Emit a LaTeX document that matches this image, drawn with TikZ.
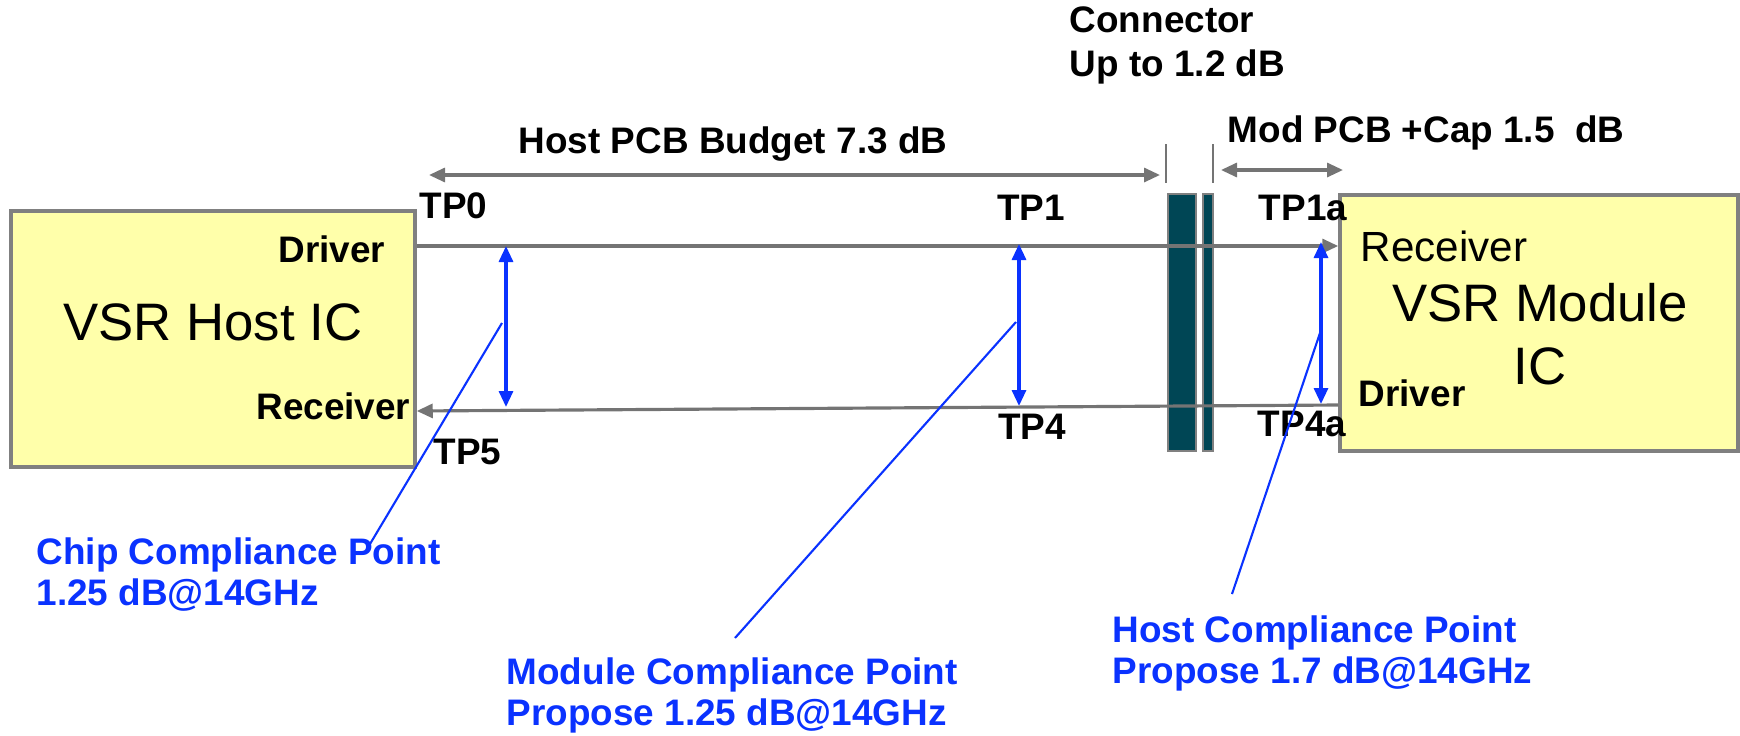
\documentclass[tikz,border=0pt]{standalone}
\usepackage{fontspec}
\setmainfont{Liberation Sans}
\usetikzlibrary{arrows.meta,positioning,calc}
\definecolor{icyellow}{HTML}{FFFFAA}
\definecolor{edgegray}{HTML}{808080}
\definecolor{sigray}{HTML}{747474}
\definecolor{conteal}{HTML}{004655}
\definecolor{tpblue}{HTML}{0A32FF}

\begin{document}
\begin{tikzpicture}[
  lbl/.style={font=\bfseries\fontsize{10.5}{12}\selectfont, inner sep=0pt},
  plain/.style={font=\fontsize{12}{14}\selectfont, inner sep=0pt},
  big/.style={font=\fontsize{15}{18}\selectfont, inner sep=0pt, align=center},
  icbox/.style={draw=edgegray, fill=icyellow, line width=1pt, minimum width=4cm, minimum height=2.56cm, inner sep=0pt},
  conbar/.style={draw=edgegray, fill=conteal, line width=0.8pt, minimum height=2.57cm, inner sep=0pt},
  sig/.style={sigray, line width=0.9pt, -{Triangle[length=1.6mm,width=1.4mm]}},
  dim/.style={sigray, line width=0.9pt, {Triangle[length=1.6mm,width=1.4mm]}-{Triangle[length=1.6mm,width=1.4mm]}},
  tick/.style={sigray, line width=0.5pt},
  tp/.style={tpblue, line width=0.9pt, {Triangle[length=1.6mm,width=1.4mm]}-{Triangle[length=1.6mm,width=1.4mm]}},
  lead/.style={tpblue, line width=0.6pt},
  note/.style={lbl, text=tpblue, align=left, font=\bfseries\fontsize{10.5}{11.6}\selectfont}
]
\useasboundingbox (0,0) rectangle (17.4,7.35);

% the two ICs and the connector
\node[icbox, minimum width=4.04cm] (host) at (2.13,3.96) {};
\node[icbox, minimum width=3.98cm] (mod)  at (15.39,4.12) {};
\node[conbar, minimum width=0.28cm] (conA) at (11.82,4.125) {};
\node[conbar, minimum width=0.10cm] (conB) at (12.08,4.125) {};

\node[big] (hostname) at (2.13,4.13) {VSR Host IC};
\node[big] (modname)  at (15.40,4.005) {VSR Module\\IC};

% pin labels
\node[lbl, anchor=east]  (hdrv) at (3.86,4.86) {Driver};
\node[lbl, anchor=east]  (hrcv) at (4.11,3.29) {Receiver};
\node[plain, anchor=west] (mrcv) at (13.60,4.89) {Receiver};
\node[lbl, anchor=west]  (mdrv) at (13.58,3.42) {Driver};

% signal lines
\coordinate (txA) at (host.east |- 0,4.89);
\coordinate (txB) at (mod.west |- 0,4.89);
\coordinate (rxA) at (host.east |- 0,3.24);
\coordinate (rxB) at (mod.west |- 0,3.30);
\draw[sig] (txA) -- (txB);
\draw[sig] (rxB) -- (rxA);

% budgets
\coordinate (tk1a) at (11.66,5.91);
\coordinate (tk1b) at (11.66,5.52);
\coordinate (tk2a) at (12.13,5.91);
\coordinate (tk2b) at (12.13,5.52);
\draw[tick] (tk1a) -- (tk1b);
\draw[tick] (tk2a) -- (tk2b);
\coordinate (hpA) at (4.29,5.60);
\coordinate (hpB) at (11.60,5.60);
\coordinate (mpA) at (12.21,5.65);
\coordinate (mpB) at (13.43,5.65);
\draw[dim] (hpA) -- (hpB);
\draw[dim] (mpA) -- (mpB);
\node[lbl] (hostpcb) at (7.33,5.91) {Host PCB Budget 7.3 dB};
\node[lbl, anchor=west] (modpcb) at (12.27,6.02) {Mod PCB +Cap 1.5\ \ dB};
\node[lbl, anchor=west, align=left, font=\bfseries\fontsize{10.5}{12.3}\selectfont] (conn) at (10.69,6.895) {Connector\\Up to 1.2 dB};

% test points
\node[lbl, anchor=west] (tp0) at (4.19,5.29) {TP0};
\node[lbl, anchor=west] (tp5) at (4.33,2.83) {TP5};
\node[lbl] (tp1)  at (10.31,5.27) {TP1};
\node[lbl] (tp4)  at (10.32,3.08) {TP4};
\node[lbl] (tp1a) at (13.03,5.27) {TP1a};
\node[lbl] (tp4a) at (13.02,3.11) {TP4a};

\coordinate (chipT) at (5.06,4.89);
\coordinate (chipB) at (5.06,3.28);
\coordinate (modT)  at (10.19,4.91);
\coordinate (modB)  at (10.19,3.29);
\coordinate (hcpT)  at (13.21,4.93);
\coordinate (hcpB)  at (13.21,3.31);
\draw[tp] (chipT) -- (chipB);
\draw[tp] (modT) -- (modB);
\draw[tp] (hcpT) -- (hcpB);

% compliance points
\node[note, anchor=west] (chip) at (0.36,1.605) {Chip Compliance Point\\1.25 dB@14GHz};
\node[note, anchor=west] (modcp) at (5.06,0.395) {Module Compliance Point\\Propose 1.25 dB@14GHz};
\node[note, anchor=west] (hostcp) at (11.12,0.815) {Host Compliance Point\\Propose 1.7 dB@14GHz};

\coordinate (l1a) at (5.02,4.12);
\coordinate (l1b) at (3.70,1.91);
\coordinate (l2a) at (10.16,4.13);
\coordinate (l2b) at (7.35,0.97);
\coordinate (l3a) at (13.21,4.05);
\coordinate (l3b) at (12.32,1.41);
\draw[lead] (l1a) -- (l1b);
\draw[lead] (l2a) -- (l2b);
\draw[lead] (l3a) -- (l3b);
\end{tikzpicture}
\end{document}
